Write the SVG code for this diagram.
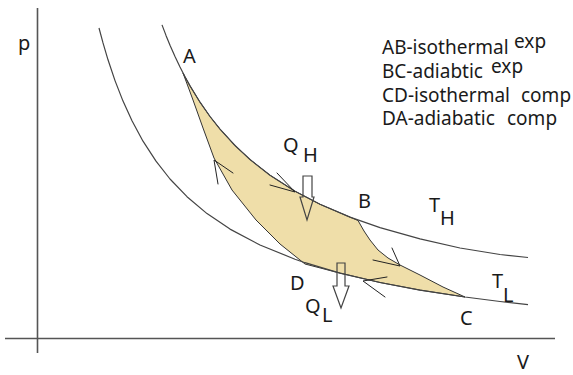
<svg xmlns="http://www.w3.org/2000/svg" width="573" height="375" viewBox="0 0 573 375">
<style>
  text { font-family: "Noto Sans", "DejaVu Sans", sans-serif; fill: #1a1a1a; }
  .lbl { font-size: 20px; }
  .leg { font-size: 19px; }
  .axis { stroke: #555; stroke-width: 1.6; fill: none; }
  .iso { stroke: #444; stroke-width: 1.2; fill: none; stroke-linejoin: round; }
  .cyc { fill: #EFDEA9; stroke: #333; stroke-width: 1; stroke-linejoin: round; }
  .mark { stroke: #222; stroke-width: 1; fill: none; stroke-linecap: round; }
  .heat { stroke: #444; stroke-width: 1.2; fill: none; stroke-linejoin: miter; }
</style>
<rect width="573" height="375" fill="#ffffff"/>

<g id="axes">
  <line class="axis" x1="37.5" y1="8" x2="37.5" y2="353"/>
  <line class="axis" x1="5" y1="338.5" x2="555" y2="338.5"/>
  <text class="lbl" x="18" y="50">p</text>
  <text class="lbl" x="517" y="369">V</text>
</g>

<g id="cycle">
  <polygon class="cyc" points="183,73 185,76.8 190,85.9 200,102.2 210,116.5 220,129.1 235,145.5 250,159.5 270,175.2 295,191.2 320,204.3 350,217.1 358,220.5 364,231 370,240 378,250 388,258 400,265 420,275 443,287 465,297 420,290.1 380,282.5 340,273.1 305,264 280,244 256,220 232,190 214,158 203,128 193,100"/>
</g>

<g id="isotherm-TH">
  <polyline class="iso" points="162,24.9 166,35.4 170,45.2 175,56.6 180,67.1 185,76.8 190,85.9 200,102.2 210,116.5 220,129.1 235,145.5 250,159.5 270,175.2 295,191.2 320,204.3 350,217.1 380,227.6 420,238.9 460,248 500,254.5 528,257.5"/>
</g>
<g id="isotherm-TL">
  <polyline class="iso" points="99,28 103,42.9 108,59.8 115,80.6 123,101.1 132,120.8 143,141.2 156,161.2 170,179 187,196.7 207,213.6 230,229.1 260,245 295,259.2 305,262.7 340,273.1 380,282.5 420,290.1 465,297 500,301.5 528,304.6"/>
</g>

<g id="connectors">
  <polyline class="mark" points="270,185 295,192 277,173"/>
  <polyline class="mark" points="218,184 214,160 233,173"/>
  <polyline class="mark" points="373,260 400,266 392,248"/>
  <polyline class="mark" points="387,277 363,281 385,297"/>
</g>

<g id="QH">
  <polygon class="heat" points="303,176 312,176 312,197 314,197 307,220 300,197 303,197"/>
  <text class="lbl" x="283" y="152">Q<tspan x="303" y="162">H</tspan></text>
</g>
<g id="QL">
  <polygon class="heat" points="337,263 345,263 345,286 349,286 341,308 333,286 337,286"/>
  <text class="lbl" x="305" y="313">Q<tspan x="322" y="322">L</tspan></text>
</g>

<g id="point-labels">
  <text class="lbl" x="183" y="63">A</text>
  <text class="lbl" x="358" y="208">B</text>
  <text class="lbl" x="460" y="325">C</text>
  <text class="lbl" x="290" y="290">D</text>
  <text class="lbl" x="429" y="212">T<tspan x="440" y="225">H</tspan></text>
  <text class="lbl" x="492" y="288">T<tspan x="503" y="302">L</tspan></text>
</g>

<g id="legend">
  <text class="leg" x="382" y="54">AB-isothermal<tspan x="514" y="48">exp</tspan><tspan x="382" y="78">BC-adiabtic</tspan><tspan x="491" y="73">exp</tspan><tspan x="382" y="102">CD-isothermal</tspan><tspan x="521" y="102">comp</tspan><tspan x="382" y="125">DA-adiabatic</tspan><tspan x="507" y="125">comp</tspan></text>
</g>
</svg>
